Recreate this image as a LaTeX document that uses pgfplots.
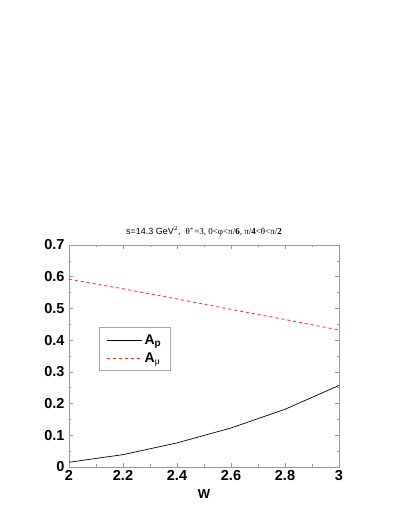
\documentclass[border=0pt]{standalone}
\usepackage{fontspec}
\setmainfont{Liberation Sans}
\newfontfamily\serifgr{Liberation Serif}
\usepackage{pgfplots}
\pgfplotsset{compat=1.18}
\begin{document}
\begin{tikzpicture}
\begin{axis}[
  at={(0,0)}, anchor=south west,
  scale only axis, width=270pt, height=222pt,
  xmin=2, xmax=3, ymin=0, ymax=0.7,
  xtick={2,2.2,2.4,2.6,2.8,3},
  ytick={0,0.1,0.2,0.3,0.4,0.5,0.6,0.7},
  xticklabels={\textbf{2},\textbf{2.2},\textbf{2.4},\textbf{2.6},\textbf{2.8},\textbf{3}},
  yticklabels={\textbf{0},\textbf{0.1},\textbf{0.2},\textbf{0.3},\textbf{0.4},\textbf{0.5},\textbf{0.6},\textbf{0.7}},
  minor x tick num=1, minor y tick num=1,
  tick align=inside, major tick length=4pt, minor tick length=2.5pt,
  tick style={gray!80, line width=0.5pt},
  axis line style={gray!80, line width=0.6pt},
  ticklabel style={font=\fontsize{14.5}{16}\selectfont},
  yticklabel style={xshift=-1pt},
  xlabel={\textbf{W}}, xlabel style={font=\fontsize{13}{15}\selectfont, yshift=-2pt},
  title={\fontsize{9}{10}\selectfont s=14.3 GeV$^2$,\ \ {\serifgr θ$^*$=3, 0<φ<π/\textbf{6}, π/\textbf{4}<θ<π/\textbf{2}}},
  title style={yshift=-1pt},
  legend style={at={(0.111,0.63)}, anchor=north west, draw=gray!70, line width=0.6pt,
    font=\fontsize{14}{16}\selectfont\bfseries, row sep=3pt, inner xsep=7pt, inner ysep=5pt},
  legend cell align=left,
  legend image code/.code={\draw[#1] (0cm,0cm) -- (1.25cm,0cm);},
]
\addplot[black, line width=0.7pt] coordinates {
  (2.0,0.015) (2.2,0.039) (2.4,0.076) (2.6,0.123) (2.8,0.182) (3.0,0.257)
};
\addlegendentry{A$_{\mbox{\fontsize{10}{11}\selectfont\bfseries p}}$}
\addplot[red!85, dashed, line width=0.8pt] coordinates {
  (2.0,0.592) (2.2,0.562) (2.4,0.530) (2.6,0.497) (2.8,0.465) (3.0,0.432)
};
\addlegendentry{A$_{\mbox{\normalfont\serifgr\fontsize{10}{11}\selectfont μ}}$}
\end{axis}
\path (-69pt,-62pt) rectangle ++(409pt,529pt);
\end{tikzpicture}
\end{document}
